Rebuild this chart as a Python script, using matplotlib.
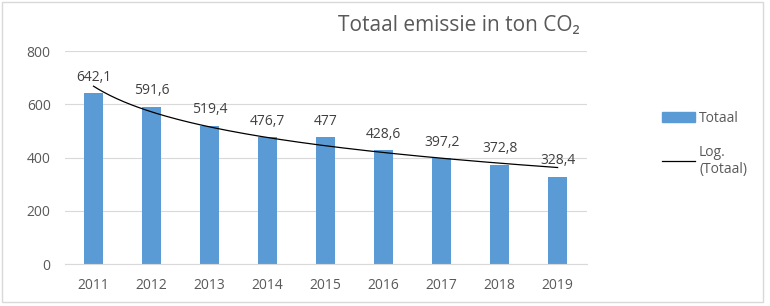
import numpy as np
import matplotlib.pyplot as plt
from matplotlib.patches import Rectangle
from matplotlib.lines import Line2D

plt.rcParams['font.family'] = ['Open Sans', 'DejaVu Sans']

years = ['2011', '2012', '2013', '2014', '2015', '2016', '2017', '2018', '2019']
totaal = [642.1, 591.6, 519.4, 476.7, 477, 428.6, 397.2, 372.8, 328.4]
value_labels = ['642,1', '591,6', '519,4', '476,7', '477', '428,6', '397,2', '372,8', '328,4']

bar_color = '#5b9bd5'
text_color = '#595959'

fig = plt.figure(figsize=(7.7, 3.06), dpi=100)
ax = fig.add_axes([0.0838, 0.137, 0.678, 0.696])

x = np.arange(len(years))
ax.bar(x, totaal, width=0.33, color=bar_color, zorder=2)

# logarithmic trendline fitted on the data (Excel style: a + b*ln(n))
n = x + 1
b, a = np.polyfit(np.log(n), totaal, 1)
xs = np.linspace(1, len(years), 200)
ax.plot(xs - 1, a + b * np.log(xs), color='black', lw=0.9, zorder=3)

for xi, v, lab in zip(x, totaal, value_labels):
    ax.annotate(lab, (xi, v), xytext=(0, 11.5), textcoords='offset points',
                ha='center', va='center', fontsize=10, color='#404040', zorder=4)

ax.set_ylim(0, 800)
ax.set_yticks([0, 200, 400, 600, 800])
ax.set_xlim(-0.5, len(years) - 0.5)
ax.set_xticks(x)
ax.set_xticklabels(years)
ax.yaxis.grid(True, color='#d9d9d9', lw=0.8, zorder=0)
ax.tick_params(axis='both', length=0, labelsize=10, labelcolor=text_color)
ax.tick_params(axis='x', pad=10)
ax.tick_params(axis='y', pad=10)
for s in ['top', 'right', 'left']:
    ax.spines[s].set_visible(False)
ax.spines['bottom'].set_color('#d9d9d9')

fig.text(0.596, 0.918, 'Totaal emissie in ton CO₂', ha='center', va='center',
         fontsize=15, color=text_color)

handles = [Rectangle((0, 0), 1, 1, color=bar_color),
           Line2D([0], [0], color='black', lw=0.9)]
leg = fig.legend(handles, ['Totaal', 'Log.\n(Totaal)'], loc='center left',
                 bbox_to_anchor=(0.843, 0.53), frameon=False, fontsize=10,
                 labelcolor=text_color, handlelength=2.4, handletextpad=0.3,
                 labelspacing=1.35)

fig.patches.append(Rectangle((0.002, 0.012), 0.989, 0.982, transform=fig.transFigure,
                             fill=False, edgecolor='#d9d9d9', lw=1))

fig.savefig('out.png', dpi=100)
